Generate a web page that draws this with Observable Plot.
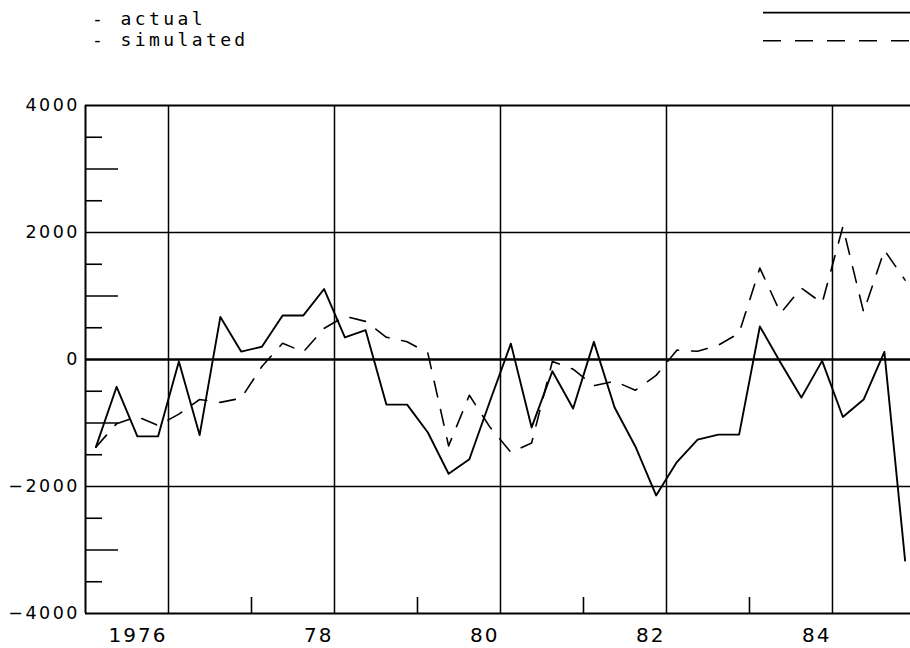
<!DOCTYPE html>
<html>
<head>
<meta charset="utf-8">
<script src="https://cdn.jsdelivr.net/npm/d3@7"></script>
<script src="https://cdn.jsdelivr.net/npm/@observablehq/plot@0.6"></script>
<style>
  html, body { margin: 0; padding: 0; background: #fff; }
  #legend { display: block; }
  #chart svg { display: block; }
  #chart g[aria-label="y-axis tick label"] text { letter-spacing: 2.5px; }
  #chart g[aria-label="x-axis tick label"] text { letter-spacing: 2px; }
</style>
</head>
<body>
<svg id="legend" width="910" height="70"></svg>
<div id="chart"></div>
<script>
// ---- data (quarterly, 1975Q1 .. 1984Q4) ----
const startYear = 1975;
const seriesNames = ["actual", "simulated"];
const actual = [-1380, -430, -1210, -1210, -30, -1190, 670, 125, 200, 694,
                694, 1110, 347, 462, -710, -710, -1150, -1800, -1570, -650,
                250, -1070, -185, -773, 278, -755, -1370, -2140, -1615, -1262,
                -1183, -1183, 520, -50, -600, -22, -905, -631, 120, -3166];
const simulated = [-1380, -1010, -900, -1040, -860, -630, -675, -610, -110, 255,
                   120, 490, 680, 600, 350, 280, 100, -1360, -563, -1068,
                   -1462, -1315, -30, -153, -413, -342, -484, -250, 147, 130,
                   225, 415, 1440, 731, 1125, 888, 2090, 746, 1722, 1250];
const xGridYears = [1976, 1978, 1980, 1982, 1984];
const xTickLabels = ["1976", "78", "80", "82", "84"];
const xMinorYears = [1977, 1979, 1981, 1983];
const yLabelTicks = [-4000, -2000, 0, 2000, 4000];
const yGrid = [-2000, 2000];
const yShortTicks = [-3500, -2500, -1500, -500, 500, 1500, 2500, 3500];
const yLongTicks = [-3000, -1000, 1000, 3000];

const toRows = vals => vals.map((v, i) => ({t: startYear + (i + 0.5) / 4, v}));
const actualRows = toRows(actual);
const simRows = toRows(simulated);
const labelOf = new Map(xGridYears.map((y, i) => [y, xTickLabels[i]]));

// ---- layout ----
const W = 910, H = 578, mL = 85, mR = 0, mT = 35, mB = 35;
const plotW = W - mL - mR, plotH = H - mT - mB;

// ---- legend (above the chart) ----
const leg = d3.select("#legend");
const legFont = "'DejaVu Sans Mono', monospace";
[["- " + seriesNames[0], 25], ["- " + seriesNames[1], 46]].forEach(([txt, base]) => {
  leg.append("text").attr("x", 92).attr("y", base)
    .attr("font-family", legFont).attr("font-size", 18)
    .attr("letter-spacing", "3.4px").attr("fill", "#000").text(txt);
});
leg.append("line").attr("x1", 763).attr("x2", 910).attr("y1", 12.7).attr("y2", 12.7)
  .attr("stroke", "#000").attr("stroke-width", 1.8);
leg.append("line").attr("x1", 763).attr("x2", 910).attr("y1", 40.7).attr("y2", 40.7)
  .attr("stroke", "#000").attr("stroke-width", 1.6).attr("stroke-dasharray", "18,14");

// ---- chart ----
const chart = Plot.plot({
  width: W, height: H,
  marginLeft: mL, marginRight: mR, marginTop: mT, marginBottom: mB,
  style: {background: "#fff", color: "#000", overflow: "visible"},
  x: {domain: [1975, 1984.94], axis: null},
  y: {domain: [-4000, 4000], axis: null},
  marks: [
    // grid
    Plot.ruleX(xGridYears, {stroke: "#000", strokeWidth: 1.5}),
    Plot.ruleY(yGrid, {stroke: "#000", strokeWidth: 1.5}),
    Plot.ruleY([0], {stroke: "#000", strokeWidth: 2.3}),
    // inner ticks
    Plot.ruleY(yShortTicks, {stroke: "#000", strokeWidth: 1.6, insetRight: plotW - 17}),
    Plot.ruleY(yLongTicks, {stroke: "#000", strokeWidth: 1.6, insetRight: plotW - 33}),
    Plot.ruleX(xMinorYears, {stroke: "#000", strokeWidth: 1.6, insetTop: plotH - 16}),
    // frame (top, bottom, left)
    Plot.ruleY([4000, -4000], {stroke: "#000", strokeWidth: 2}),
    Plot.ruleX([1975], {stroke: "#000", strokeWidth: 2}),
    // series
    Plot.line(simRows, {x: "t", y: "v", stroke: "#000", strokeWidth: 1.6, strokeDasharray: "16,13"}),
    Plot.line(actualRows, {x: "t", y: "v", stroke: "#000", strokeWidth: 1.9}),
    // axes labels
    Plot.axisY(yLabelTicks, {tickSize: 0, tickPadding: 5.5, fontSize: 17.5,
      fontFamily: "'DejaVu Sans', sans-serif", label: null,
      tickFormat: d => d < 0 ? "\u2212" + Math.abs(d) : String(d)}),
    Plot.axisX(xGridYears, {tickSize: 0, tickPadding: 14, fontSize: 20, textAnchor: "end", dx: -1,
      fontFamily: "'DejaVu Sans', sans-serif", label: null, tickFormat: d => labelOf.get(d)})
  ]
});
document.getElementById("chart").appendChild(chart);
</script>
</body>
</html>
